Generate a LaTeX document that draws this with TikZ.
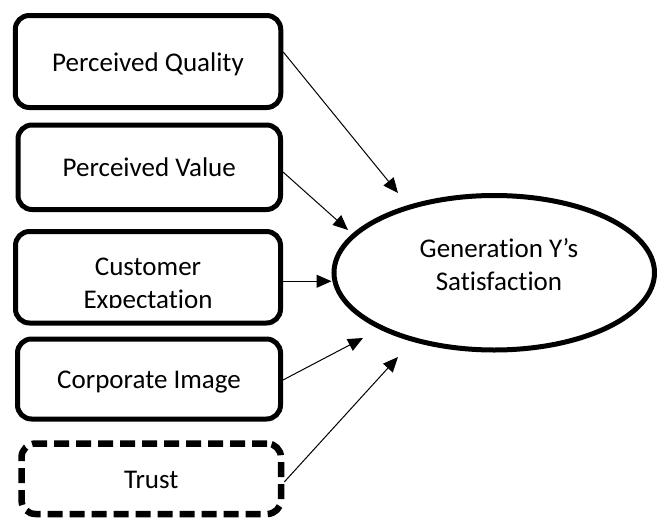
\documentclass[tikz,border=0pt]{standalone}
\usepackage{fontspec}
\setmainfont{Carlito}[Ligatures=NoCommon]
\usetikzlibrary{arrows.meta,shapes.geometric}

\begin{document}
\begin{tikzpicture}[
  x=1pt,y=-1pt,
  >={Triangle[length=15pt,width=13pt]},
  every node/.style={font=\fontsize{27}{33}\selectfont},
  factor/.style={draw,rounded corners=14pt,line width=5pt,inner sep=0pt,
                 text height=19pt,text depth=0pt},
  optional/.style={factor,line width=6.5pt,dash pattern=on 15pt off 7pt},
  outcome/.style={draw,ellipse,line width=5pt,inner sep=0pt},
  link/.style={->,line width=1pt}
]
\useasboundingbox (0,0) rectangle (657,520);

% antecedents, top to bottom
\node[factor,minimum width=265.5pt,minimum height=92pt]  (quality) at (148,61.5)     {Perceived Quality};
\node[factor,minimum width=262.5pt,minimum height=84.5pt] (value)  at (149.25,167.25) {Perceived Value};
\node[factor,minimum width=265pt,minimum height=91.5pt]  (expect)  at (148,277.25)   {};
\node[factor,minimum width=263pt,minimum height=80pt]    (image)   at (149,379)      {Corporate Image};
\node[optional,minimum width=259.5pt,minimum height=70.5pt] (trust) at (151.25,478.75) {Trust};

% text frame of the third box cuts the last line
\begin{scope}
\clip (expect.north west) rectangle ([yshift=18pt]expect.south east);
\node[align=center] (expecttext) at (148,285) {Customer\\Expectation};
\end{scope}

% outcome
\node[outcome,minimum width=320.5pt,minimum height=154.5pt] (satisfaction) at (494.25,272.75) {};
\node[align=center] (sattext) at (499,265) {Generation Y’s\\Satisfaction};

% free ends of the paths
\coordinate (qtip) at (398,193);
\coordinate (vtip) at (348,230);
\coordinate (itip) at (363,338);
\coordinate (ttip) at (398,357);

% paths
\draw[link] ([yshift=9.5pt]quality.east) -- (qtip);
\draw[link] ([yshift=-4.75pt]value.east) -- (vtip);
\draw[link] ([yshift=-4pt]expect.east) -- ([yshift=-4pt]expect.east -| satisfaction.west);
\draw[link] ([yshift=-1pt]image.east) -- (itip);
\draw[link] ([yshift=-3.25pt]trust.east) -- (ttip);
\end{tikzpicture}
\end{document}
